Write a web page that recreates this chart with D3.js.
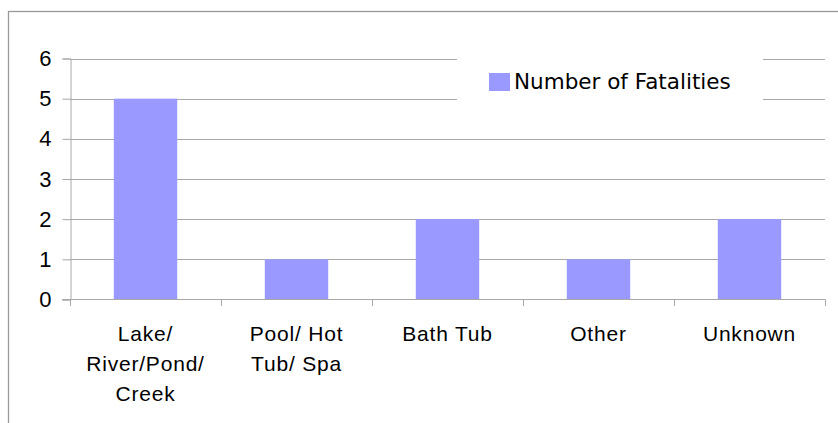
<!DOCTYPE html>
<html>
<head>
<meta charset="utf-8">
<script src="https://cdn.jsdelivr.net/npm/d3@7"></script>
<style>
  body { margin: 0; background: #fff; }
  svg { display: block; }
</style>
</head>
<body>
<svg id="chart" width="838" height="423"></svg>
<script>
// chart data
const categories = ["Lake/River/Pond/Creek", "Pool/Hot Tub/Spa", "Bath Tub", "Other", "Unknown"];
const labelLines = [["Lake/", "River/Pond/", "Creek"], ["Pool/ Hot", "Tub/ Spa"], ["Bath Tub"], ["Other"], ["Unknown"]];
const fatalities = [5, 1, 2, 1, 2];
const yTicks = [0, 1, 2, 3, 4, 5, 6];
const seriesName = "Number of Fatalities";

const svg = d3.select("#chart");
const barColour = "#9999ff";
const gridColour = "#a8a8a8";

// outer chart frame, runs off the right and bottom edges
svg.append("rect")
    .attr("x", 8.5).attr("y", 11.5)
    .attr("width", 900).attr("height", 500)
    .attr("fill", "none")
    .attr("stroke", "#9a9a9a")
    .attr("stroke-width", 1.3);

const x = d3.scaleBand()
    .domain(categories)
    .range([70, 825])
    .paddingInner(0.58)
    .paddingOuter(0.29);

const y = d3.scaleLinear()
    .domain([0, 6])
    .range([299.5, 58.5]);

// gridlines
svg.append("g").selectAll("line")
    .data(yTicks.filter(d => d > 0))
    .enter().append("line")
    .attr("x1", 70).attr("x2", 825)
    .attr("y1", d => Math.round(y(d)) + 0.5)
    .attr("y2", d => Math.round(y(d)) + 0.5)
    .attr("stroke", gridColour);

// bars
svg.append("g").selectAll("rect")
    .data(fatalities)
    .enter().append("rect")
    .attr("x", (d, i) => x(categories[i]))
    .attr("width", x.bandwidth())
    .attr("y", d => y(d))
    .attr("height", d => y(0) - y(d))
    .attr("fill", barColour);

// y axis
const yAxis = d3.axisLeft(y)
    .tickValues(yTicks)
    .tickSize(8)
    .tickPadding(11)
    .tickFormat(d3.format("d"));
const yg = svg.append("g")
    .attr("transform", "translate(70.5,0)")
    .call(yAxis);
yg.select(".domain").attr("stroke", gridColour);
yg.selectAll(".tick line").attr("stroke", gridColour);
yg.selectAll(".tick text")
    .attr("font-family", "'Liberation Sans', Arial, sans-serif")
    .attr("font-size", "22px")
    .attr("fill", "#000");

// x axis with ticks between categories
const edges = [70].concat(categories.map(c => x(c) + x.bandwidth() + x.step() * x.paddingInner() / 2));
const xg = svg.append("g");
xg.append("line")
    .attr("x1", 62).attr("x2", 825.5)
    .attr("y1", 299.5).attr("y2", 299.5)
    .attr("stroke", gridColour);
xg.selectAll("line.tk")
    .data(edges)
    .enter().append("line")
    .attr("class", "tk")
    .attr("x1", d => Math.round(d) + 0.5).attr("x2", d => Math.round(d) + 0.5)
    .attr("y1", 299.5).attr("y2", 306)
    .attr("stroke", gridColour);

// category labels
const labels = xg.selectAll("text.cat")
    .data(categories)
    .enter().append("text")
    .attr("class", "cat")
    .attr("text-anchor", "middle")
    .attr("font-family", "'Liberation Sans', Arial, sans-serif")
    .attr("font-size", "21px")
    .attr("letter-spacing", "0.8px")
    .attr("fill", "#000")
    .attr("transform", d => "translate(" + (x(d) + x.bandwidth() / 2) + ",341)");
labels.each(function (d, i) {
    d3.select(this).selectAll("tspan")
        .data(labelLines[i])
        .enter().append("tspan")
        .attr("x", 0)
        .attr("y", (t, j) => j * 30)
        .text(t => t);
});

// legend box (covers the gridlines behind it)
const lg = svg.append("g");
lg.append("rect")
    .attr("x", 457).attr("y", 48)
    .attr("width", 306).attr("height", 62)
    .attr("fill", "#fff");
lg.append("rect")
    .attr("x", 489).attr("y", 73)
    .attr("width", 21).attr("height", 18)
    .attr("fill", barColour);
lg.append("text")
    .attr("x", 514).attr("y", 89)
    .attr("font-family", "'DejaVu Sans', Verdana, sans-serif")
    .attr("font-size", "21.5px")
    .attr("fill", "#000")
    .text(seriesName);
</script>
</body>
</html>
